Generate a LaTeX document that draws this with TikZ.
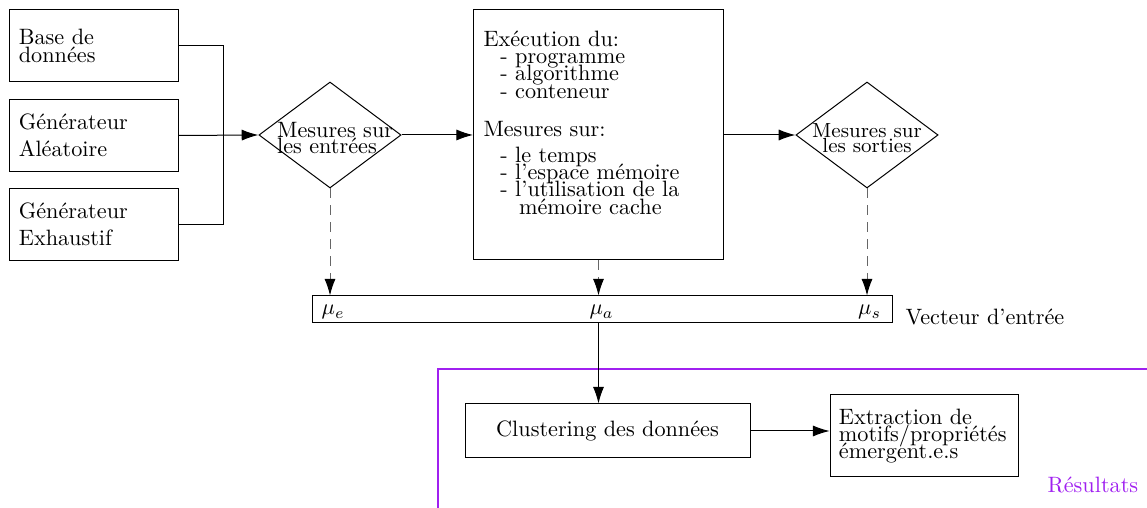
\documentclass[tikz,border=0pt]{standalone}
\usepackage{fontspec}
\usetikzlibrary{arrows.meta,shapes.geometric}
\definecolor{resviolet}{RGB}{160,32,240}

\begin{document}
\begin{tikzpicture}[x=0.45pt,y=-0.45pt, line width=0.45pt,
  boite/.style={draw, rectangle, inner sep=4pt, align=left},
  source/.style={boite, text width=67.6pt, minimum height=32pt},
  mesure/.style={draw, diamond, inner sep=0pt, minimum width=64pt, minimum height=47.7pt},
  serre/.style={font={\fontsize{10}{#1}\selectfont\lineskiplimit=-10pt}},
  fleche/.style={-{Latex[length=7.5pt,width=5pt,color=black]}},
  pointille/.style={fleche, dash pattern=on 4.5pt off 3.1pt, draw=black!60}]
\useasboundingbox (0,0) rectangle (1147,508) ;

% les sources des entrees
\node[source, serre=8.1] (base) at (94,45.5) {Base de\\données} ;
\node[source] (alea) at (94,135.5) {Générateur\\Aléatoire} ;
\node[source] (exh) at (94,224.5) {Générateur\\Exhaustif} ;
\coordinate (jonction) at (223.5,135) ;

% mesures et execution
\node[mesure, label={[serre=7.2, align=left, xshift=2.3pt, yshift=-1.5pt]center:{Mesures sur\\les entrées}}] (d1) at (330,135) {} ;
\node[boite, minimum width=112.5pt, minimum height=112.5pt] (exec) at (598.5,135) {} ;
\node[anchor=north west, inner sep=0pt, align=left, serre=7.8] (exectxt) at ([xshift=4.5pt,yshift=-9.3pt]exec.north west)
  {Exécution du:\\
   \hspace*{7.6pt}- programme\\
   \hspace*{7.6pt}- algorithme\\
   \hspace*{7.6pt}- conteneur\\[9.3pt]
   Mesures sur:\\[3.9pt]
   \hspace*{7.6pt}- le temps\\
   \hspace*{7.6pt}- l'espace mémoire\\
   \hspace*{7.6pt}- l'utilisation de la\\
   \hspace*{16pt}mémoire cache} ;
\node[mesure, label={[font={\fontsize{9.2}{6.8}\selectfont\lineskiplimit=-10pt}, align=center, yshift=-1.5pt]center:{Mesures sur\\les sorties}}] (d2) at (867,135) {} ;

% vecteur d'entree
\node[draw, rectangle, minimum width=260.6pt, minimum height=12.15pt, inner sep=0pt] (vec) at (602.5,309.5) {} ;
\node[anchor=base, xshift=1.4pt] (mue) at (d1.south |- 0,315) {$\mu_e$} ;
\node[anchor=base, xshift=1.4pt] (mua) at (exec.south |- 0,315) {$\mu_a$} ;
\node[anchor=base, xshift=1.2pt] (mus) at (d2.south |- 0,315) {$\mu_s$} ;
\node[anchor=base west, inner sep=0pt] (veclbl) at (905,325) {Vecteur d'entrée} ;

% resultats
\draw[resviolet, line width=1.1pt] (1147,369) -- (438,369) -- (438,508) ;
\node[boite, minimum width=128.25pt, minimum height=24.3pt, align=center] (clust) at (607.5,431) {Clustering des données} ;
\node[boite, serre=7.8, text width=77pt, minimum height=36.9pt] (extr) at (924.5,436) {Extraction de\\motifs/propriétés\\émergent.e.s} ;
\node[anchor=base west, inner sep=0pt, text=resviolet] (reslbl) at (1047,493) {Résultats} ;

% connecteurs
\draw (base.east) -| (jonction) |- (exh.east) ;
\draw[fleche] (alea.east) -- (d1.west) ;
\draw[fleche] (d1.east) -- (exec.west) ;
\draw[fleche] (exec.east) -- (d2.west) ;
\draw[pointille] (d1.south) -- (d1.south |- vec.north) ;
\draw[pointille] (exec.south) -- (exec.south |- vec.north) ;
\draw[pointille] (d2.south) -- (d2.south |- vec.north) ;
\draw[fleche] (exec.south |- vec.south) -- (exec.south |- clust.north) ;
\draw[fleche] (clust.east) -- (clust.east -| extr.west) ;

\end{tikzpicture}
\end{document}
